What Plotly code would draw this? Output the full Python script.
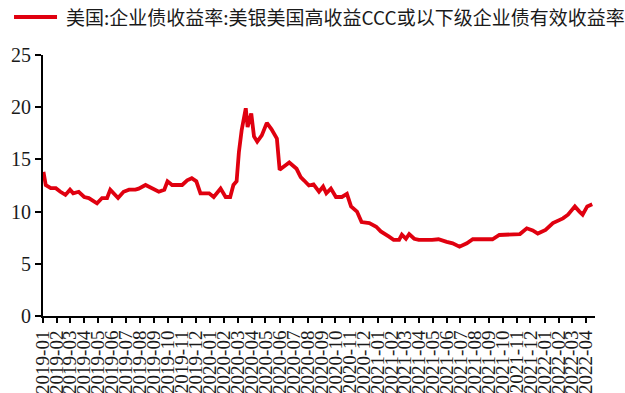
import plotly.graph_objects as go

# CCC-and-below high-yield effective yield (%), sampled roughly weekly plus turning points
dates = [
    "2019-01-02", "2019-01-03", "2019-01-07", "2019-01-18", "2019-01-29", "2019-02-08",
    "2019-02-19", "2019-03-01", "2019-03-08", "2019-03-20", "2019-04-01", "2019-04-11",
    "2019-04-18", "2019-04-29", "2019-05-10", "2019-05-21", "2019-05-28", "2019-06-04",
    "2019-06-14", "2019-06-26", "2019-07-08", "2019-07-22", "2019-07-29", "2019-08-13",
    "2019-08-27", "2019-09-11", "2019-09-23", "2019-09-30", "2019-10-10", "2019-11-01",
    "2019-11-12", "2019-11-22", "2019-12-02", "2019-12-11", "2019-12-30", "2020-01-09",
    "2020-01-24", "2020-02-04", "2020-02-14", "2020-02-21", "2020-02-28", "2020-03-04",
    "2020-03-10", "2020-03-19", "2020-03-23", "2020-03-31", "2020-04-06", "2020-04-13",
    "2020-04-23", "2020-05-04", "2020-05-14", "2020-05-26", "2020-06-01", "2020-06-11",
    "2020-06-22", "2020-07-08", "2020-07-17", "2020-07-24", "2020-08-04", "2020-08-14",
    "2020-08-26", "2020-09-04", "2020-09-11", "2020-09-21", "2020-10-02", "2020-10-15",
    "2020-10-26", "2020-11-04", "2020-11-17", "2020-11-27", "2020-12-14", "2020-12-29",
    "2021-01-08", "2021-01-26", "2021-02-05", "2021-02-17", "2021-02-23", "2021-03-04",
    "2021-03-11", "2021-03-22", "2021-04-01", "2021-04-30", "2021-05-14", "2021-06-01",
    "2021-06-14", "2021-06-29", "2021-07-15", "2021-07-28", "2021-09-09", "2021-09-24",
    "2021-10-11", "2021-11-08", "2021-11-23", "2021-12-06", "2021-12-17", "2022-01-03",
    "2022-01-19", "2022-02-10", "2022-02-21", "2022-03-08", "2022-03-18", "2022-03-25",
    "2022-04-04", "2022-04-15",
]
yields = [
    13.8, 13.4, 12.55, 12.24, 12.24, 11.9,
    11.6, 12.1, 11.75, 11.9, 11.4, 11.3,
    11.1, 10.8, 11.3, 11.3, 12.1, 11.75,
    11.3, 11.9, 12.1, 12.1, 12.2, 12.55,
    12.24, 11.9, 12.1, 12.9, 12.55, 12.55,
    13.0, 13.2, 12.9, 11.75, 11.75, 11.4,
    12.2, 11.4, 11.4, 12.55, 12.9, 15.7,
    17.8, 19.9, 18.1, 19.4, 17.2, 16.7,
    17.3, 18.5, 17.9, 17.0, 14.0, 14.3,
    14.7, 14.1, 13.3, 13.0, 12.5, 12.6,
    11.9, 12.4, 11.75, 12.2, 11.4, 11.4,
    11.7, 10.5, 10.0, 9.0, 8.9, 8.55,
    8.1, 7.6, 7.3, 7.3, 7.8, 7.4,
    7.85, 7.4, 7.3, 7.3, 7.35, 7.1,
    6.96, 6.64, 6.96, 7.35, 7.35, 7.76,
    7.76, 7.85, 8.4, 8.2, 7.9, 8.25,
    8.9, 9.35, 9.7, 10.5, 10.0, 9.7,
    10.5, 10.7,
]

series_name = "美国:企业债收益率:美银美国高收益CCC或以下级企业债有效收益率"

# monthly tick labels 2019-01 .. 2022-04
month_labels = [f"{y}-{m:02d}" for y in range(2019, 2023) for m in range(1, 13)][:40]
month_ticks = [s + "-01" for s in month_labels]

y_ticks = [0, 5, 10, 15, 20, 25]

RED = "#E0000F"

fig = go.Figure()
fig.add_trace(go.Scatter(
    x=dates, y=yields, mode="lines", name=series_name,
    line=dict(color=RED, width=3.8), showlegend=False,
))

# legend drawn by hand: red sample line plus label text
fig.add_shape(type="line", xref="paper", yref="paper",
              x0=-0.0525, x1=0.0254, y0=1.1456, y1=1.1456,
              line=dict(color=RED, width=3.8))
fig.add_annotation(text=series_name, xref="paper", yref="paper",
                   x=0.038, y=1.1456, xanchor="left", yanchor="middle",
                   showarrow=False,
                   font=dict(family="Noto Sans CJK SC", size=19, color="#1a1a1a"))

fig.update_layout(
    width=625, height=393,
    margin=dict(l=43, r=30, t=55, b=77),
    plot_bgcolor="white", paper_bgcolor="white",
)
fig.update_xaxes(
    range=["2019-01-01", "2022-04-21"],
    tickvals=month_ticks, ticktext=month_labels, tickangle=-90,
    showline=True, linecolor="black", linewidth=2,
    ticks="outside", ticklen=5, tickwidth=1.5, tickcolor="black",
    showgrid=False, zeroline=False, automargin=False,
    tickfont=dict(family="Liberation Serif", size=19, color="#1a1a1a"),
)
fig.update_yaxes(
    range=[0, 25], tickvals=y_ticks,
    showline=True, linecolor="black", linewidth=2,
    ticks="outside", ticklen=6, tickwidth=1.5, tickcolor="black",
    showgrid=False, zeroline=False, automargin=False,
    tickfont=dict(family="Liberation Serif", size=20, color="#1a1a1a"),
)

fig.write_html("out.html")
